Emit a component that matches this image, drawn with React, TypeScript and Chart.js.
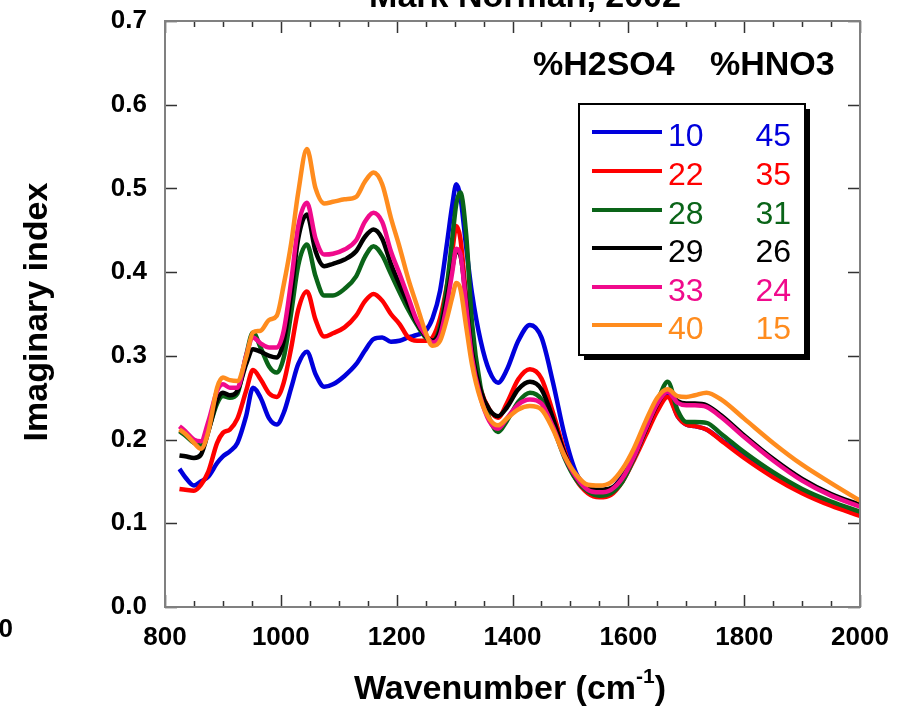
import React, { useEffect, useRef } from 'react';
import { Chart, registerables } from 'chart.js';

Chart.register(...registerables);

// ---------- data ----------
const wavenumbers = [825, 835, 850, 862, 875, 890, 900, 912, 925, 940, 952, 965, 980, 993, 1005, 1018, 1030, 1045, 1060, 1075, 1090, 1110, 1130, 1145, 1160, 1175, 1190, 1205, 1220, 1235, 1250, 1262, 1275, 1287, 1296, 1303, 1310, 1320, 1330, 1345, 1360, 1375, 1390, 1410, 1430, 1450, 1470, 1490, 1510, 1530, 1550, 1570, 1590, 1610, 1630, 1650, 1668, 1685, 1700, 1715, 1735, 1760, 1800, 1850, 1900, 1950, 2000];

const s10_45 = [0.165, 0.155, 0.145, 0.150, 0.156, 0.172, 0.180, 0.186, 0.196, 0.228, 0.262, 0.250, 0.225, 0.218, 0.232, 0.262, 0.290, 0.305, 0.278, 0.263, 0.266, 0.276, 0.290, 0.306, 0.320, 0.322, 0.317, 0.318, 0.322, 0.325, 0.330, 0.345, 0.378, 0.435, 0.480, 0.505, 0.490, 0.430, 0.375, 0.318, 0.282, 0.268, 0.283, 0.318, 0.337, 0.322, 0.268, 0.205, 0.160, 0.143, 0.136, 0.140, 0.157, 0.182, 0.210, 0.240, 0.255, 0.228, 0.218, 0.216, 0.212, 0.200, 0.180, 0.157, 0.138, 0.123, 0.111];

const s22_35 = [0.141, 0.140, 0.139, 0.146, 0.162, 0.196, 0.208, 0.212, 0.225, 0.258, 0.283, 0.272, 0.255, 0.251, 0.268, 0.310, 0.355, 0.377, 0.343, 0.323, 0.327, 0.334, 0.348, 0.365, 0.374, 0.366, 0.350, 0.338, 0.322, 0.318, 0.318, 0.322, 0.345, 0.385, 0.425, 0.455, 0.440, 0.370, 0.310, 0.260, 0.236, 0.226, 0.243, 0.272, 0.284, 0.273, 0.232, 0.186, 0.152, 0.136, 0.131, 0.134, 0.150, 0.176, 0.205, 0.234, 0.251, 0.228, 0.218, 0.216, 0.212, 0.199, 0.178, 0.155, 0.136, 0.121, 0.109];

const s28_31 = [0.210, 0.205, 0.196, 0.193, 0.212, 0.243, 0.252, 0.250, 0.255, 0.300, 0.328, 0.310, 0.287, 0.280, 0.298, 0.352, 0.408, 0.433, 0.395, 0.372, 0.372, 0.380, 0.395, 0.418, 0.431, 0.420, 0.398, 0.376, 0.355, 0.337, 0.322, 0.318, 0.335, 0.385, 0.440, 0.482, 0.495, 0.445, 0.340, 0.262, 0.225, 0.209, 0.222, 0.245, 0.256, 0.248, 0.215, 0.178, 0.152, 0.138, 0.133, 0.136, 0.150, 0.178, 0.212, 0.245, 0.269, 0.235, 0.221, 0.221, 0.220, 0.207, 0.185, 0.161, 0.141, 0.126, 0.114];

const s29_26 = [0.181, 0.180, 0.178, 0.182, 0.210, 0.247, 0.256, 0.253, 0.258, 0.290, 0.308, 0.305, 0.300, 0.298, 0.318, 0.375, 0.440, 0.469, 0.425, 0.407, 0.410, 0.415, 0.425, 0.442, 0.451, 0.440, 0.410, 0.385, 0.362, 0.340, 0.324, 0.318, 0.330, 0.370, 0.405, 0.425, 0.420, 0.365, 0.305, 0.258, 0.236, 0.228, 0.238, 0.260, 0.269, 0.260, 0.225, 0.183, 0.155, 0.142, 0.140, 0.142, 0.155, 0.180, 0.212, 0.242, 0.258, 0.246, 0.243, 0.243, 0.241, 0.229, 0.205, 0.177, 0.153, 0.135, 0.122];

const s33_24 = [0.216, 0.210, 0.200, 0.198, 0.222, 0.258, 0.266, 0.262, 0.262, 0.300, 0.322, 0.315, 0.310, 0.310, 0.330, 0.390, 0.455, 0.483, 0.440, 0.421, 0.422, 0.427, 0.438, 0.460, 0.471, 0.460, 0.425, 0.398, 0.370, 0.342, 0.325, 0.316, 0.325, 0.362, 0.400, 0.428, 0.422, 0.360, 0.298, 0.250, 0.222, 0.213, 0.225, 0.242, 0.248, 0.243, 0.215, 0.180, 0.155, 0.140, 0.137, 0.140, 0.154, 0.180, 0.213, 0.243, 0.257, 0.244, 0.241, 0.241, 0.239, 0.227, 0.203, 0.175, 0.151, 0.133, 0.120];

const s40_15 = [0.212, 0.207, 0.196, 0.189, 0.210, 0.262, 0.274, 0.271, 0.270, 0.298, 0.328, 0.330, 0.343, 0.348, 0.385, 0.435, 0.495, 0.547, 0.500, 0.482, 0.484, 0.487, 0.490, 0.508, 0.519, 0.505, 0.465, 0.430, 0.392, 0.360, 0.328, 0.312, 0.318, 0.345, 0.370, 0.387, 0.380, 0.335, 0.290, 0.248, 0.225, 0.217, 0.225, 0.236, 0.240, 0.236, 0.212, 0.180, 0.158, 0.146, 0.145, 0.149, 0.165, 0.190, 0.222, 0.250, 0.260, 0.252, 0.251, 0.253, 0.256, 0.248, 0.225, 0.196, 0.170, 0.148, 0.127];

const h2so4Labels = ['10', '22', '28', '29', '33', '40'];
const hno3Labels = ['45', '35', '31', '26', '24', '15'];
const seriesValues = [s10_45, s22_35, s28_31, s29_26, s33_24, s40_15];
const seriesColors = ['#0000dc', '#ff0000', '#0a6418', '#000000', '#f00a8c', '#ff8c1e'];

const xMin = 800;
const xMax = 2000;
const xMajorStep = 200;
const xMinorStep = 50;
const yMin = 0;
const yMax = 0.7;
const yStep = 0.1;

const titleText = 'Mark Norman, 2002';
const xTitleMain = 'Wavenumber (cm';
const xTitleSup = '-1';
const xTitleEnd = ')';
const yTitle = 'Imaginary index';
const headerLeft = '%H2SO4';
const headerRight = '%HNO3';

const FONT = '"Liberation Sans", Arial, Helvetica, sans-serif';

const decorPlugin = {
  id: 'decor',
  afterDraw(chart: any) {
    const ctx = chart.ctx as CanvasRenderingContext2D;
    const { left, right, top, bottom } = chart.chartArea;
    const xs = chart.scales.x;
    const ys = chart.scales.y;
    ctx.save();

    // ticks (inward)
    ctx.strokeStyle = '#333333';
    ctx.lineWidth = 1.5;
    ctx.beginPath();
    for (let v = xMin; v <= xMax; v += xMinorStep) {
      const px = Math.round(xs.getPixelForValue(v)) + 0.5;
      const len = v % xMajorStep === 0 ? 12 : 6;
      ctx.moveTo(px, bottom);
      ctx.lineTo(px, bottom - len);
      ctx.moveTo(px, top);
      ctx.lineTo(px, top + len);
    }
    for (let i = 0; i <= Math.round((yMax - yMin) / yStep); i++) {
      const py = Math.round(ys.getPixelForValue(yMin + i * yStep)) + 0.5;
      ctx.moveTo(left, py);
      ctx.lineTo(left + 12, py);
      ctx.moveTo(right, py);
      ctx.lineTo(right - 12, py);
    }
    ctx.stroke();

    // frame
    ctx.strokeStyle = '#808080';
    ctx.lineWidth = 2;
    ctx.strokeRect(left, top, right - left, bottom - top);

    ctx.fillStyle = '#000';
    // top title (cut off)
    ctx.font = `bold 34px ${FONT}`;
    ctx.textAlign = 'center';
    ctx.textBaseline = 'alphabetic';
    ctx.fillText(titleText, 525, 7);

    // stray 0
    ctx.font = `bold 26px ${FONT}`;
    ctx.textAlign = 'right';
    ctx.fillText('0', 13, 637);

    // x title with superscript
    ctx.font = `bold 34px ${FONT}`;
    ctx.textAlign = 'left';
    const w1 = ctx.measureText(xTitleMain).width;
    ctx.font = `bold 21px ${FONT}`;
    const w2 = ctx.measureText(xTitleSup).width;
    ctx.font = `bold 34px ${FONT}`;
    const w3 = ctx.measureText(xTitleEnd).width;
    const total = w1 + w2 + w3;
    const x0 = 510 - total / 2;
    ctx.fillText(xTitleMain, x0, 699);
    ctx.font = `bold 21px ${FONT}`;
    ctx.fillText(xTitleSup, x0 + w1, 683);
    ctx.font = `bold 34px ${FONT}`;
    ctx.fillText(xTitleEnd, x0 + w1 + w2, 699);

    // y title
    ctx.save();
    ctx.translate(47, 312);
    ctx.rotate(-Math.PI / 2);
    ctx.textAlign = 'center';
    ctx.font = `bold 34px ${FONT}`;
    ctx.fillText(yTitle, 0, 0);
    ctx.restore();

    // legend headers
    ctx.font = `bold 34px ${FONT}`;
    ctx.textAlign = 'left';
    ctx.fillText(headerLeft, 533, 75);
    ctx.fillText(headerRight, 710, 75);

    // legend box with shadow
    const bx = 579, by = 104, bw = 226, bh = 251;
    ctx.fillStyle = '#000';
    ctx.fillRect(bx + 5, by + 5, bw, bh);
    ctx.fillStyle = '#fff';
    ctx.fillRect(bx, by, bw, bh);
    ctx.strokeStyle = '#000';
    ctx.lineWidth = 2;
    ctx.strokeRect(bx, by, bw, bh);

    const rowY = [132, 171, 210, 248, 287, 325];
    ctx.font = `32px ${FONT}`;
    for (let i = 0; i < h2so4Labels.length; i++) {
      const y = rowY[i];
      ctx.strokeStyle = seriesColors[i];
      ctx.lineWidth = 4;
      ctx.beginPath();
      ctx.moveTo(592, y);
      ctx.lineTo(662, y);
      ctx.stroke();
      ctx.fillStyle = seriesColors[i];
      ctx.textAlign = 'left';
      ctx.fillText(h2so4Labels[i], 668, y + 14);
      ctx.textAlign = 'right';
      ctx.fillText(hno3Labels[i], 791, y + 14);
    }
    ctx.restore();
  },
};

export default function App() {
  const canvasRef = useRef<HTMLCanvasElement | null>(null);

  useEffect(() => {
    document.body.style.margin = '0';
    const canvas = canvasRef.current;
    if (!canvas) return;
    const datasets = seriesValues.map((vals, i) => ({
      label: `${h2so4Labels[i]} / ${hno3Labels[i]}`,
      data: wavenumbers.map((w, j) => ({ x: w, y: vals[j] })),
      borderColor: seriesColors[i],
      backgroundColor: seriesColors[i],
      borderWidth: 4.5,
      pointRadius: 0,
      fill: false,
      cubicInterpolationMode: 'monotone' as const,
      order: seriesValues.length - 1 - i,
    }));
    const chart = new Chart(canvas, {
      type: 'line',
      data: { datasets },
      options: {
        animation: false,
        responsive: false,
        maintainAspectRatio: false,
        layout: { padding: { top: 21, right: 42, left: 0, bottom: 0 } },
        plugins: {
          legend: { display: false },
          tooltip: { enabled: false },
          title: { display: false },
        },
        scales: {
          x: {
            type: 'linear',
            min: xMin,
            max: xMax,
            afterFit: (scale: any) => {
              scale.height = 101;
              scale.paddingLeft = 0;
              scale.paddingRight = 0;
            },
            ticks: {
              stepSize: xMajorStep,
              color: '#000',
              font: { family: FONT, size: 26, weight: 'bold' },
              padding: 15,
              maxRotation: 0,
              autoSkip: false,
              callback: (v: any) => String(Math.round(Number(v))),
            },
            grid: { display: false, drawTicks: false },
            border: { display: false },
          },
          y: {
            type: 'linear',
            min: yMin,
            max: yMax,
            afterFit: (scale: any) => {
              scale.width = 165;
              scale.paddingTop = 0;
              scale.paddingBottom = 0;
            },
            ticks: {
              stepSize: yStep,
              color: '#000',
              font: { family: FONT, size: 26, weight: 'bold' },
              padding: 18,
              callback: (v: any) => Number(v).toFixed(1),
            },
            grid: { display: false, drawTicks: false },
            border: { display: false },
          },
        },
      },
      plugins: [decorPlugin],
    });
    return () => chart.destroy();
  }, []);

  return (
    <div style={{ position: 'absolute', left: 0, top: 0, width: 902, height: 708, background: '#fff' }}>
      <canvas ref={canvasRef} width={902} height={708} style={{ display: 'block', width: 902, height: 708 }} />
    </div>
  );
}
